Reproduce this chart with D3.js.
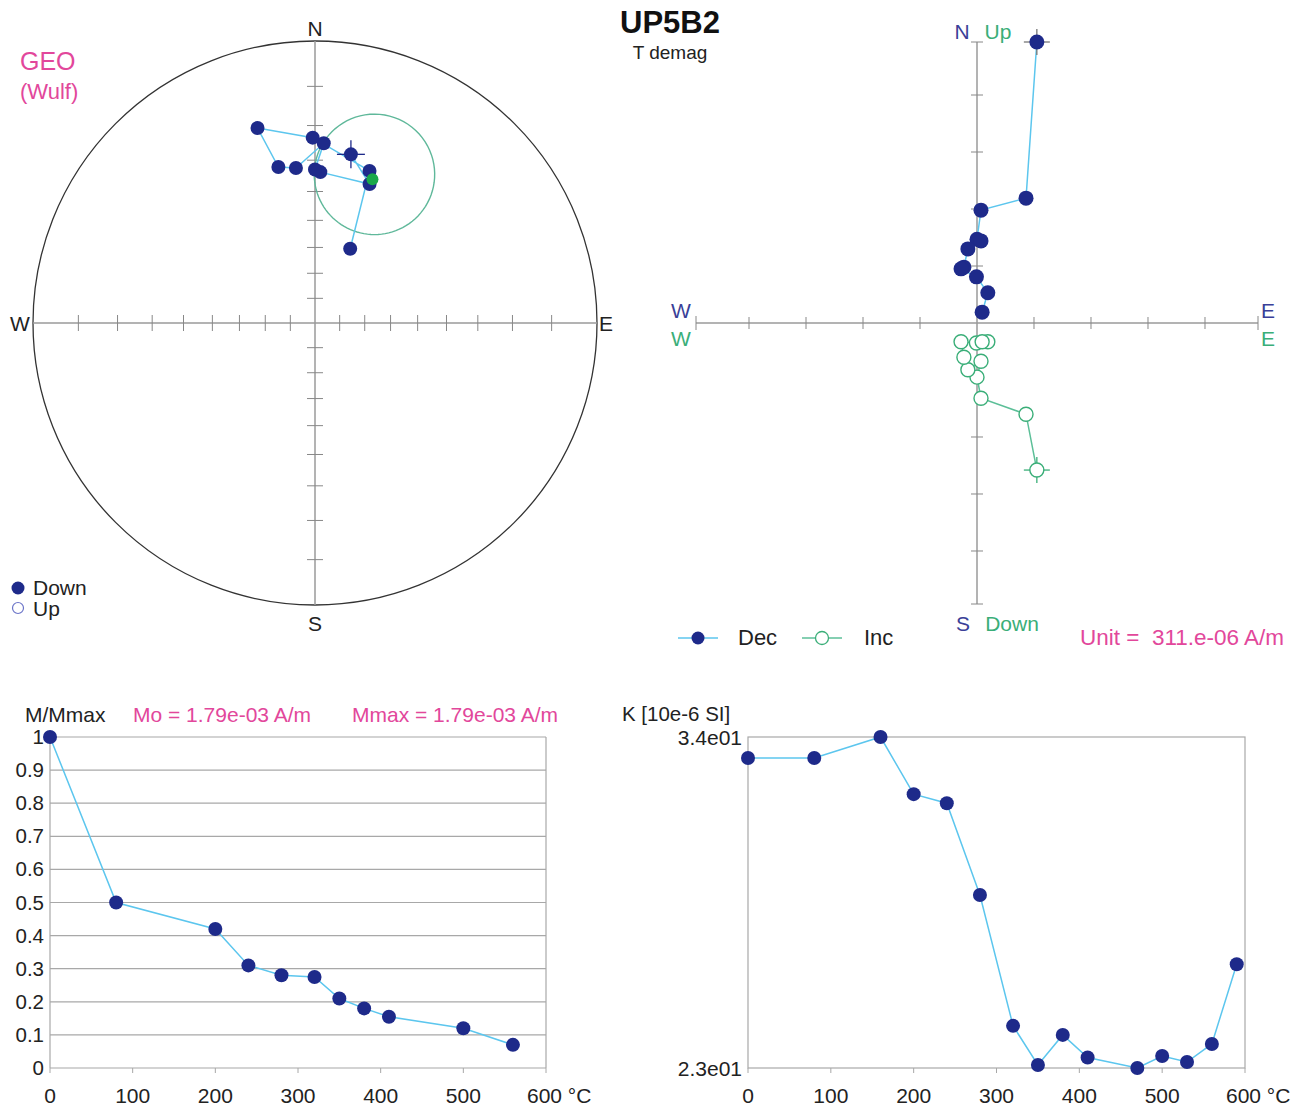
<!DOCTYPE html>
<html><head><meta charset="utf-8">
<script src="https://cdn.jsdelivr.net/npm/d3@7"></script>
<style>
html,body{margin:0;padding:0;background:#fff;}
text{font-family:"Liberation Sans",Arial,Helvetica,sans-serif;white-space:pre;}
</style></head>
<body>
<svg id="c" width="1308" height="1106"></svg>
<script>
// ---------------- DATA ----------------
const steps = [0, 80, 200, 240, 280, 320, 350, 380, 410, 500, 560];           // °C demag steps
// Orthogonal components (unit = 311e-06 A/m): East, North, Down
const compE = [1.05, 0.86, 0.07, 0.00, 0.07, -0.16, -0.23, -0.28, -0.01, 0.19, 0.09];
const compN = [4.93, 2.19, 1.98, 1.47, 1.44, 1.30, 0.98, 0.95, 0.81, 0.53, 0.19];
const compD = [2.58, 1.60, 1.32, 0.95, 0.67, 0.82, 0.60, 0.33, 0.35, 0.33, 0.33];
const mNorm = [1.0, 0.50, 0.42, 0.31, 0.28, 0.275, 0.21, 0.18, 0.155, 0.12, 0.07];
const kTemps = [0, 80, 160, 200, 240, 280, 320, 350, 380, 410, 470, 500, 530, 560, 590];
const kVals  = [33.3, 33.3, 34.0, 32.1, 31.8, 28.75, 24.4, 23.1, 24.1, 23.35, 23.0, 23.4, 23.2, 23.8, 26.45];
const meanDir = {dec: 21.8, inc: 32.5, a95: 18.5};
const stereoIncTicks = [10, 20, 30, 40, 50, 60, 70, 80];
const mTicks = [0, 0.1, 0.2, 0.3, 0.4, 0.5, 0.6, 0.7, 0.8, 0.9, 1];
const tTicks = [0, 100, 200, 300, 400, 500, 600];
const kTickLabels = ["2.3e01", "3.4e01"];
const kDomain = [23, 34];

// ---------------- STYLE ----------------
const NAVY = "#1e2a8a", LBLUE = "#5cc6ee", GREEN = "#3aae78", PINK = "#e2479b", GRAY = "#9a9a9a";
const svg = d3.select("#c");
const rad = Math.PI / 180;

function txt(x, y, s, o) {
  o = o || {};
  return svg.append("text").attr("x", x).attr("y", y).text(s)
    .attr("font-size", o.size || 20).attr("fill", o.fill || "#222")
    .attr("text-anchor", o.anchor || "start").attr("font-weight", o.weight || "normal");
}
function cross(g, x, y, len, color) {
  g.append("line").attr("x1", x - len).attr("x2", x + len).attr("y1", y).attr("y2", y).attr("stroke", color).attr("stroke-width", 1.3);
  g.append("line").attr("x1", x).attr("x2", x).attr("y1", y - len).attr("y2", y + len).attr("stroke", color).attr("stroke-width", 1.3);
}

// ---------------- STEREONET ----------------
const S = {cx: 315, cy: 323, R: 282};
const rS = d3.scaleLinear().domain([0, 1]).range([0, S.R]);
function proj(dec, inc) {
  const r = rS(Math.tan((90 - Math.abs(inc)) / 2 * rad));
  return [S.cx + r * Math.sin(dec * rad), S.cy - r * Math.cos(dec * rad)];
}
const dirs = steps.map((t, i) => {
  const h = Math.hypot(compE[i], compN[i]);
  return {dec: Math.atan2(compE[i], compN[i]) / rad, inc: Math.atan2(compD[i], h) / rad};
});
const gs = svg.append("g");
gs.append("circle").attr("cx", S.cx).attr("cy", S.cy).attr("r", S.R).attr("fill", "none").attr("stroke", "#333").attr("stroke-width", 1.3);
gs.append("line").attr("x1", S.cx - S.R).attr("x2", S.cx + S.R).attr("y1", S.cy).attr("y2", S.cy).attr("stroke", GRAY).attr("stroke-width", 1.5);
gs.append("line").attr("x1", S.cx).attr("x2", S.cx).attr("y1", S.cy - S.R).attr("y2", S.cy + S.R).attr("stroke", GRAY).attr("stroke-width", 1.5);
[0, 90, 180, 270].forEach(az => {
  stereoIncTicks.forEach(inc => {
    const [x, y] = proj(az, inc);
    const horiz = (az === 0 || az === 180);
    gs.append("line")
      .attr("x1", horiz ? x - 8 : x).attr("x2", horiz ? x + 8 : x)
      .attr("y1", horiz ? y : y - 8).attr("y2", horiz ? y : y + 8)
      .attr("stroke", "#888").attr("stroke-width", 1);
  });
});
// confidence cone
const mv = [Math.cos(meanDir.inc * rad) * Math.cos(meanDir.dec * rad), Math.cos(meanDir.inc * rad) * Math.sin(meanDir.dec * rad), Math.sin(meanDir.inc * rad)];
let u = [-Math.sin(meanDir.dec * rad), Math.cos(meanDir.dec * rad), 0];
let v = [mv[1] * u[2] - mv[2] * u[1], mv[2] * u[0] - mv[0] * u[2], mv[0] * u[1] - mv[1] * u[0]];
const conePts = d3.range(0, 361, 4).map(t => {
  const a = meanDir.a95 * rad, tt = t * rad;
  const p = [0, 1, 2].map(k => Math.cos(a) * mv[k] + Math.sin(a) * (Math.cos(tt) * u[k] + Math.sin(tt) * v[k]));
  const dec = Math.atan2(p[1], p[0]) / rad, inc = Math.asin(p[2]) / rad;
  return proj(dec, inc);
});
gs.append("path").attr("d", d3.line()(conePts)).attr("fill", "none").attr("stroke", "#5fb89a").attr("stroke-width", 1.4);
const sPts = dirs.map(d => proj(d.dec, d.inc));
gs.append("path").attr("d", d3.line()(sPts)).attr("fill", "none").attr("stroke", LBLUE).attr("stroke-width", 1.5);
cross(gs, sPts[0][0], sPts[0][1], 14, NAVY);
sPts.forEach(p => gs.append("circle").attr("cx", p[0]).attr("cy", p[1]).attr("r", 7).attr("fill", NAVY));
const mp = proj(meanDir.dec, meanDir.inc);
gs.append("circle").attr("cx", mp[0]).attr("cy", mp[1]).attr("r", 6).attr("fill", "#1aa84a");

txt(315, 36, "N", {anchor: "middle", size: 21});
txt(315, 631, "S", {anchor: "middle", size: 21});
txt(20, 331, "W", {anchor: "middle", size: 21});
txt(606, 331, "E", {anchor: "middle", size: 21});
txt(20, 70, "GEO", {fill: PINK, size: 25});
txt(20, 99, "(Wulf)", {fill: PINK, size: 22});
svg.append("circle").attr("cx", 18).attr("cy", 588).attr("r", 6.5).attr("fill", NAVY);
txt(33, 595, "Down", {size: 21});
svg.append("circle").attr("cx", 18).attr("cy", 608).attr("r", 5.5).attr("fill", "#fff").attr("stroke", "#6b74c8").attr("stroke-width", 1.2);
txt(33, 616, "Up", {size: 21});

// ---------------- TITLE ----------------
txt(670, 33, "UP5B2", {anchor: "middle", size: 31, weight: "bold", fill: "#111"});
txt(670, 59, "T demag", {anchor: "middle", size: 19});

// ---------------- ZIJDERVELD ----------------
const Z = {cx: 977, cy: 323, half: 281};
const zMax = d3.max([...compE, ...compN, ...compD].map(Math.abs));
const zx = d3.scaleLinear().domain([-zMax, zMax]).range([Z.cx - Z.half, Z.cx + Z.half]);
const zyN = d3.scaleLinear().domain([-zMax, zMax]).range([Z.cy + Z.half, Z.cy - Z.half]);
const zyD = d3.scaleLinear().domain([-zMax, zMax]).range([Z.cy - Z.half, Z.cy + Z.half]);
const gz = svg.append("g");
gz.append("line").attr("x1", zx(-zMax)).attr("x2", zx(zMax)).attr("y1", Z.cy).attr("y2", Z.cy).attr("stroke", GRAY).attr("stroke-width", 1.5);
gz.append("line").attr("x1", Z.cx).attr("x2", Z.cx).attr("y1", zyN(zMax)).attr("y2", zyN(-zMax)).attr("stroke", GRAY).attr("stroke-width", 1.5);
const zt = d3.range(-Math.floor(zMax), Math.floor(zMax) + 1).filter(d => d !== 0);
zt.forEach(d => {
  gz.append("line").attr("x1", zx(d)).attr("x2", zx(d)).attr("y1", Z.cy - 6).attr("y2", Z.cy + 6).attr("stroke", "#888");
  gz.append("line").attr("y1", zyN(d)).attr("y2", zyN(d)).attr("x1", Z.cx - 6).attr("x2", Z.cx + 6).attr("stroke", "#888");
});
[-zMax, zMax].forEach(d => {
  gz.append("line").attr("x1", zx(d)).attr("x2", zx(d)).attr("y1", Z.cy - 7).attr("y2", Z.cy + 7).attr("stroke", "#888");
  gz.append("line").attr("y1", zyN(d)).attr("y2", zyN(d)).attr("x1", Z.cx - 6).attr("x2", Z.cx + 6).attr("stroke", "#888");
});
const decPts = steps.map((t, i) => [zx(compE[i]), zyN(compN[i])]);
const incPts = steps.map((t, i) => [zx(compE[i]), zyD(compD[i])]);
gz.append("path").attr("d", d3.line()(decPts)).attr("fill", "none").attr("stroke", LBLUE).attr("stroke-width", 1.5);
gz.append("path").attr("d", d3.line()(incPts)).attr("fill", "none").attr("stroke", "#5cbf98").attr("stroke-width", 1.5);
cross(gz, decPts[0][0], decPts[0][1], 13, "#777");
cross(gz, incPts[0][0], incPts[0][1], 13, GREEN);
incPts.forEach(p => gz.append("circle").attr("cx", p[0]).attr("cy", p[1]).attr("r", 7).attr("fill", "#fff").attr("stroke", GREEN).attr("stroke-width", 1.4));
decPts.forEach(p => gz.append("circle").attr("cx", p[0]).attr("cy", p[1]).attr("r", 7.5).attr("fill", NAVY));

txt(962, 39, "N", {anchor: "middle", size: 21, fill: "#3a3f98"});
txt(998, 39, "Up", {anchor: "middle", size: 21, fill: GREEN});
txt(681, 318, "W", {anchor: "middle", size: 21, fill: "#3a3f98"});
txt(681, 346, "W", {anchor: "middle", size: 21, fill: GREEN});
txt(1268, 318, "E", {anchor: "middle", size: 21, fill: "#3a3f98"});
txt(1268, 346, "E", {anchor: "middle", size: 21, fill: GREEN});
txt(963, 631, "S", {anchor: "middle", size: 21, fill: "#3a3f98"});
txt(1012, 631, "Down", {anchor: "middle", size: 21, fill: GREEN});
// legend
svg.append("line").attr("x1", 678).attr("x2", 718).attr("y1", 638).attr("y2", 638).attr("stroke", LBLUE).attr("stroke-width", 1.5);
svg.append("circle").attr("cx", 698).attr("cy", 638).attr("r", 6.5).attr("fill", NAVY);
txt(738, 645, "Dec", {size: 22});
svg.append("line").attr("x1", 802).attr("x2", 842).attr("y1", 638).attr("y2", 638).attr("stroke", "#5cbf98").attr("stroke-width", 1.5);
svg.append("circle").attr("cx", 822).attr("cy", 638).attr("r", 6.5).attr("fill", "#fff").attr("stroke", GREEN).attr("stroke-width", 1.3);
txt(864, 645, "Inc", {size: 22});
txt(1080, 645, "Unit =  311.e-06 A/m", {size: 22.5, fill: PINK});

// ---------------- M/Mmax ----------------
const mx = d3.scaleLinear().domain([0, 600]).range([50, 546]);
const my = d3.scaleLinear().domain([0, 1]).range([1068, 737]);
const gm = svg.append("g");
mTicks.forEach(t => {
  gm.append("line").attr("x1", mx(0)).attr("x2", mx(600)).attr("y1", my(t)).attr("y2", my(t)).attr("stroke", "#a8a8a8").attr("stroke-width", 1.2);
  txt(44, my(t) + 7, t === 0 ? "0" : t === 1 ? "1" : t.toFixed(1), {anchor: "end", size: 20.5});
});
gm.append("line").attr("x1", mx(0)).attr("x2", mx(0)).attr("y1", my(0)).attr("y2", my(1)).attr("stroke", "#a8a8a8").attr("stroke-width", 1.2);
gm.append("line").attr("x1", mx(600)).attr("x2", mx(600)).attr("y1", my(0)).attr("y2", my(1)).attr("stroke", "#a8a8a8").attr("stroke-width", 1.2);
tTicks.forEach(t => {
  gm.append("line").attr("x1", mx(t)).attr("x2", mx(t)).attr("y1", my(0)).attr("y2", my(0) + 5).attr("stroke", "#a8a8a8");
  if (t === 600) txt(mx(t) - 19, 1103, "600 °C", {size: 21});
  else txt(mx(t), 1103, String(t), {anchor: "middle", size: 21});
});
const mPts = steps.map((t, i) => [mx(t), my(mNorm[i])]);
gm.append("path").attr("d", d3.line()(mPts)).attr("fill", "none").attr("stroke", LBLUE).attr("stroke-width", 1.5);
mPts.forEach(p => gm.append("circle").attr("cx", p[0]).attr("cy", p[1]).attr("r", 7).attr("fill", NAVY));
txt(25, 722, "M/Mmax", {size: 21});
txt(133, 722, "Mo = 1.79e-03 A/m", {size: 21, fill: PINK});
txt(352, 722, "Mmax = 1.79e-03 A/m", {size: 21, fill: PINK});

// ---------------- K ----------------
const kx = d3.scaleLinear().domain([0, 600]).range([748, 1245]);
const ky = d3.scaleLinear().domain(kDomain).range([1068, 737]);
const gk = svg.append("g");
gk.append("rect").attr("x", kx(0)).attr("y", ky(kDomain[1])).attr("width", kx(600) - kx(0)).attr("height", ky(kDomain[0]) - ky(kDomain[1]))
  .attr("fill", "none").attr("stroke", "#a8a8a8").attr("stroke-width", 1.2);
tTicks.forEach(t => {
  gk.append("line").attr("x1", kx(t)).attr("x2", kx(t)).attr("y1", ky(kDomain[0])).attr("y2", ky(kDomain[0]) + 5).attr("stroke", "#a8a8a8");
  if (t === 600) txt(kx(t) - 19, 1103, "600 °C", {size: 21});
  else txt(kx(t), 1103, String(t), {anchor: "middle", size: 21});
});
kDomain.forEach((d, i) => txt(742, ky(d) + 8, kTickLabels[i], {anchor: "end", size: 21}));
const kPts = kTemps.map((t, i) => [kx(t), ky(kVals[i])]);
gk.append("path").attr("d", d3.line()(kPts)).attr("fill", "none").attr("stroke", LBLUE).attr("stroke-width", 1.5);
kPts.forEach(p => gk.append("circle").attr("cx", p[0]).attr("cy", p[1]).attr("r", 7).attr("fill", NAVY));
txt(622, 721, "K [10e-6 SI]", {size: 20.5});
</script>
</body></html>
